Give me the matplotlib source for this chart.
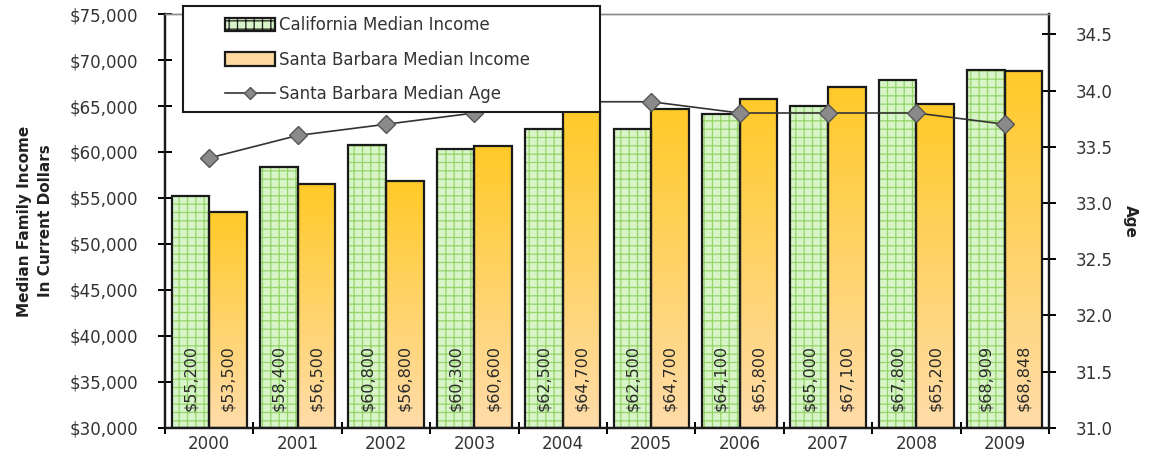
import matplotlib

matplotlib.use("Agg")
import matplotlib.pyplot as plt
import numpy as np
from matplotlib.lines import Line2D
from matplotlib.patches import Patch, Rectangle
from matplotlib.ticker import FuncFormatter, MultipleLocator, FixedLocator

years = ["2000", "2001", "2002", "2003", "2004", "2005", "2006", "2007", "2008", "2009"]
ca_income = [55200, 58400, 60800, 60300, 62500, 62500, 64100, 65000, 67800, 68909]
sb_income = [53500, 56500, 56800, 60600, 64700, 64700, 65800, 67100, 65200, 68848]
sb_age = [33.4, 33.6, 33.7, 33.8, 33.9, 33.9, 33.8, 33.8, 33.8, 33.7]

TEXT = "#333333"
DARK = "#1a1a1a"
GREEN_FILL = "#d8f5c9"
GREEN_GRID = "#95d468"

plt.rcParams["font.family"] = "DejaVu Sans"
plt.rcParams["hatch.linewidth"] = 0.9
plt.rcParams["hatch.color"] = GREEN_GRID

fig = plt.figure(figsize=(11.49, 4.70), dpi=100)
ax = fig.add_axes([0.1436, 0.0894, 0.7694, 0.8808])
ax2 = ax.twinx()

x = np.arange(len(years))
w = 0.425
y0 = 30000

# California bars: light green with a green grid hatch, black outline on top
ax.bar(x - w / 2, np.array(ca_income) - y0, w, bottom=y0, color=GREEN_FILL,
       hatch="++", edgecolor=GREEN_GRID, linewidth=0, zorder=2)
ax.bar(x - w / 2, np.array(ca_income) - y0, w, bottom=y0, fill=False,
       edgecolor=DARK, linewidth=1.6, zorder=3)

# Santa Barbara bars: vertical gradient, gold at the top fading to peach
top_c = np.array([255, 202, 40]) / 255
bot_c = np.array([255, 220, 170]) / 255
t = np.linspace(0, 1, 256)[:, None]
grad = (top_c * (1 - t) + bot_c * t)[:, None, :]
sb_bars = ax.bar(x + w / 2, np.array(sb_income) - y0, w, bottom=y0, fill=False,
                 edgecolor=DARK, linewidth=1.6, zorder=3)
for bar in sb_bars:
    bx, by = bar.get_x(), bar.get_y()
    bw, bh = bar.get_width(), bar.get_height()
    im = ax.imshow(grad, extent=[bx, bx + bw, by, by + bh], aspect="auto",
                   origin="upper", zorder=2, interpolation="bilinear")
    im.set_clip_path(bar)

# value labels inside the bars
for xs, vals in ((x - w / 2, ca_income), (x + w / 2, sb_income)):
    for xi, v in zip(xs, vals):
        ax.text(xi, 31900, f"${v:,}", rotation=90, ha="center", va="bottom",
                fontsize=11.5, color="#2a2a2a", zorder=4)

ax.set_xlim(-0.5, len(years) - 0.5)
ax.set_ylim(30000, 75000)
ax.yaxis.set_major_locator(MultipleLocator(5000))
ax.yaxis.set_major_formatter(FuncFormatter(lambda v, p: f"${v:,.0f}"))
ax.set_xticks(x)
ax.set_xticklabels(years)
ax.xaxis.set_minor_locator(FixedLocator(np.arange(-0.5, len(years), 1.0)))
ax.tick_params(axis="x", which="major", length=0, labelsize=12, labelcolor=TEXT, pad=5)
ax.tick_params(axis="x", which="minor", direction="inout", length=9, width=1.4)
ax.tick_params(axis="y", direction="inout", length=10, width=1.4, labelsize=12,
               labelcolor=TEXT, pad=14)
ax.set_ylabel("Median Family Income\nIn Current Dollars", fontsize=11,
              fontweight="bold", color="#222222", labelpad=12, linespacing=1.5)

# age line on the secondary axis
ax2.plot(x, sb_age, color="#333333", linewidth=1.2, marker="D", markersize=9,
         markerfacecolor="#8a8a8a", markeredgecolor="#555555", markeredgewidth=1, zorder=5)
ax2.set_ylim(31.0, 34.68)
ax2.set_yticks(np.arange(31.0, 34.51, 0.5))
ax2.yaxis.set_major_formatter(FuncFormatter(lambda v, p: f"{v:.1f}"))
ax2.tick_params(axis="y", direction="inout", length=10, width=1.4, labelsize=12,
                labelcolor=TEXT, pad=14)
ax2.set_ylabel("Age", rotation=270, fontsize=11, fontweight="bold",
               color="#222222", labelpad=18)

for a in (ax, ax2):
    a.spines["top"].set_color("#8c8c8c")
    a.spines["top"].set_linewidth(1.0)
    for s in ("left", "right", "bottom"):
        a.spines[s].set_color(DARK)
        a.spines[s].set_linewidth(1.6)

# legend box drawn by hand so it can sit over the top edge of the plot
ax2.add_patch(Rectangle((0.0204, 0.763), 0.4716, 0.256, transform=ax2.transAxes,
                        facecolor="white", edgecolor=DARK, linewidth=1.5,
                        clip_on=False, zorder=9))
handles = [
    Patch(facecolor=GREEN_FILL, hatch="++", edgecolor=DARK, linewidth=1.6,
          label="California Median Income"),
    Patch(facecolor="#ffd9a0", edgecolor=DARK, linewidth=1.6,
          label="Santa Barbara Median Income"),
    Line2D([0], [0], color="#333333", linewidth=1.2, marker="D", markersize=6,
           markerfacecolor="#8a8a8a", markeredgecolor="#555555",
           label="Santa Barbara Median Age"),
]
leg = ax2.legend(handles=handles, loc="upper left", bbox_to_anchor=(0.068, 0.995),
                 fontsize=12, frameon=False, handlelength=3.0, handleheight=0.85,
                 handletextpad=0.25, labelspacing=1.0, borderpad=0, borderaxespad=0)
for txt in leg.get_texts():
    txt.set_color(TEXT)
leg.set_zorder(10)

fig.savefig("out.png", dpi=100, facecolor="white")
